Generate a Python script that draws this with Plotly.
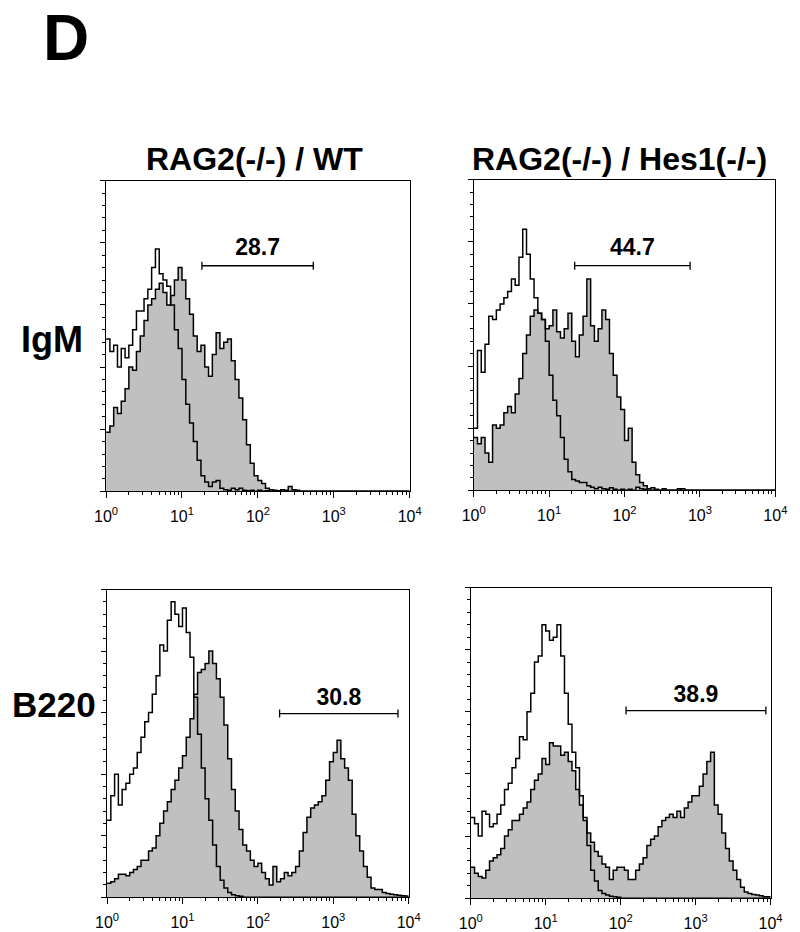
import numpy as np
import plotly.graph_objects as go

# channel bins in decades (10^0 .. 10^4)
bins = np.round(np.arange(0, 4.0001, 0.05), 2)
xvals = 10 ** bins

# % of panel height
# IgM, RAG2(-/-) / WT
igm_wt_ctrl = [49, 45, 47, 40, 46, 43, 47, 52, 58, 58,
               62, 65, 72, 78, 70, 68, 66, 60, 52, 46,
               36, 28, 22, 16, 10, 5, 3, 1.5, 3, 3.5,
               1, 0.5, 0.3, 1, 0.5, 1, 0.3, 0.2, 0.3, 0,
               0.3, 0, 0.2, 0, 0, 0, 0, 0, 0, 0,
               0, 0, 0, 0, 0, 0, 0, 0, 0, 0,
               0, 0, 0, 0, 0, 0, 0, 0, 0, 0,
               0, 0, 0, 0, 0, 0, 0, 0, 0, 0, 0]
igm_wt_stain = [19, 21, 27, 25, 29, 33, 40, 39, 45, 50,
                55, 60, 62, 65, 67, 64, 60, 63, 68, 72,
                68, 62, 57, 50, 45, 47, 40, 37, 44, 51,
                46, 48, 49, 42, 36, 30, 23, 15, 9, 5,
                3.5, 2.5, 1, 0.5, 0.3, 0.2, 0.5, 0.3, 1.5, 0.5,
                0.3, 0, 0, 0, 0, 0, 0, 0, 0, 0,
                0, 0, 0, 0, 0, 0, 0, 0, 0, 0,
                0, 0, 0, 0, 0, 0, 0, 0, 0, 0, 0]
# IgM, RAG2(-/-) / Hes1(-/-)
igm_hes_ctrl = [20, 45, 38, 47, 56, 55, 58, 60, 62, 64,
                68, 66, 75, 84, 76, 68, 62, 57, 55, 48,
                37, 29, 24, 17, 10, 6, 3.5, 3, 2.5, 2.5,
                1.5, 1, 0.5, 1, 0.5, 0.3, 0.8, 0.3, 0, 0.3,
                0, 0.3, 0, 1, 0.5, 0.3, 0, 0, 0, 0,
                0, 0, 0, 0, 0, 0.5, 0, 0, 0, 0,
                0, 0, 0, 0, 0, 0, 0, 0, 0, 0,
                0, 0, 0, 0, 0, 0, 0, 0, 0, 0, 0]
igm_hes_stain = [17, 15, 17, 12, 9, 21, 20, 21, 25, 27,
                 25, 31, 36, 44, 50, 56, 58, 57, 55, 52,
                 53, 58, 51, 49, 52, 57, 48, 43, 50, 56,
                 68, 53, 48, 52, 58, 55, 44, 37, 30, 26,
                 16, 20, 9, 5, 2.5, 1.5, 0.5, 0.8, 0.3, 0,
                 0.5, 0, 0, 0, 0.5, 0, 0, 0, 0, 0,
                 0, 0, 0, 0, 0, 0, 0, 0, 0, 0,
                 0, 0, 0, 0, 0, 0, 0, 0, 0, 0, 0]
# B220, RAG2(-/-) / WT
b220_wt_ctrl = [25, 33, 40, 30, 35, 37, 40, 42, 47, 52,
                57, 60, 66, 72, 82, 80, 90, 96, 92, 88,
                94, 86, 78, 65, 53, 42, 32, 25, 17, 10,
                5.5, 3, 1.5, 0.8, 0.5, 0.3, 0, 0, 0, 0,
                0, 0, 0, 0, 0, 0, 0, 0, 0, 0,
                0, 0, 0, 0, 0, 0, 0, 0, 0, 0,
                0, 0, 0, 0, 0, 0, 0, 0, 0, 0,
                0, 0, 0, 0, 0, 0, 0, 0, 0, 0, 0]
b220_wt_stain = [4.5, 5, 6, 7.5, 7.5, 7, 8, 9, 10, 12,
                 12, 15, 16, 20, 24, 28, 31, 35, 38, 42,
                 46, 52, 58, 66, 73, 74, 76, 80, 76, 71,
                 65, 56, 45, 35, 28, 22, 17, 15, 12, 10,
                 11, 8, 6, 4, 10, 5, 6, 8, 7, 8,
                 10, 15, 21, 26, 29, 30, 31, 33, 38, 44,
                 47, 51, 45, 42, 38, 27, 20, 15, 10, 6.5,
                 3, 2.5, 2.5, 1.5, 1.2, 1, 0.8, 0.6, 0.5, 0.4, 0.4]
# B220, RAG2(-/-) / Hes1(-/-)
b220_hes_ctrl = [26, 24, 20, 28, 27, 23, 24, 27, 30, 35,
                 37, 42, 45, 52, 51, 60, 66, 76, 78, 88,
                 86, 83, 84, 88, 78, 66, 56, 47, 42, 33,
                 26, 17, 9, 5.5, 2.5, 1.5, 1, 0.6, 0.5, 0.3,
                 0, 0, 0, 0, 0, 0, 0, 0, 0, 0,
                 0, 0, 0, 0, 0, 0, 0, 0, 0, 0,
                 0, 0, 0, 0, 0, 0, 0, 0, 0, 0,
                 0, 0, 0, 0, 0, 0, 0, 0, 0, 0, 0]
b220_hes_stain = [10, 8, 7, 6.5, 9, 12, 13, 14, 16, 20,
                  22, 25, 25, 27, 29, 31, 35, 38, 40, 45,
                  43, 50, 49, 49, 46, 47, 44, 41, 35, 30,
                  25, 21, 18, 15, 13.5, 11, 10, 6, 9, 10,
                  10, 9, 6, 6, 9, 11, 13, 17, 19, 20,
                  23, 25, 26, 27, 26, 28, 26, 29, 31, 33,
                  33, 36, 40, 44, 47, 30, 27, 21, 16, 12,
                  9, 6, 3.5, 2, 1.5, 1.2, 1, 0.8, 0.5, 0.5, 0.4]

# marker gates: low, high, height, label
gate_lo = [18.3, 21.8, 194, 118]
gate_hi = [537, 740, 7200, 8660]
gate_y = [72.6, 72.3, 59.7, 60.4]
gate_text = ["28.7", "44.7", "30.8", "38.9"]
label_y = [77.8, 77.5, 64.3, 65.0]

panels = [
    (igm_wt_ctrl, igm_wt_stain),
    (igm_hes_ctrl, igm_hes_stain),
    (b220_wt_ctrl, b220_wt_stain),
    (b220_hes_ctrl, b220_hes_stain),
]

W, H = 800, 932
# pixel boxes: left, right, top, bottom
boxes = [(97, 410, 182, 495), (476, 787, 181, 494),
         (98, 409, 594, 904), (473, 782, 592, 905)]

FONT = "Liberation Sans, Arial, sans-serif"
fig = go.Figure()

for i, (ctrl, stain) in enumerate(panels):
    n = "" if i == 0 else str(i + 1)
    xa, ya = "x" + n, "y" + n
    fig.add_trace(go.Scatter(x=xvals, y=stain, xaxis=xa, yaxis=ya, mode="lines",
                             line=dict(color="black", width=1.5, shape="hv"),
                             fill="tozeroy", fillcolor="rgb(192,192,192)"))
    fig.add_trace(go.Scatter(x=xvals, y=ctrl, xaxis=xa, yaxis=ya, mode="lines",
                             line=dict(color="black", width=1.5, shape="hv")))
    lo, hi, gy = gate_lo[i], gate_hi[i], gate_y[i]
    fig.add_trace(go.Scatter(x=[lo, lo, None, lo, hi, None, hi, hi],
                             y=[gy - 1.3, gy + 1.3, None, gy, gy, None, gy - 1.3, gy + 1.3],
                             xaxis=xa, yaxis=ya, mode="lines",
                             line=dict(color="black", width=1.3)))
    fig.add_trace(go.Scatter(x=[np.sqrt(lo * hi)], y=[label_y[i]], xaxis=xa, yaxis=ya,
                             mode="text", text=["<b>%s</b>" % gate_text[i]],
                             textfont=dict(family=FONT, size=23, color="black")))

    l, r, t, b = boxes[i]
    fig.update_layout({
        "xaxis" + n: dict(domain=[l / W, r / W], anchor=ya, type="log", range=[0, 4],
                          tickvals=[1, 10, 100, 1000, 10000],
                          ticktext=["10<sup>%d</sup>" % k for k in range(5)],
                          ticks="outside", ticklen=6, tickwidth=1.2, tickcolor="black",
                          ticklabelstandoff=4,
                          minor=dict(ticks="outside", ticklen=3, tickwidth=1,
                                     tickcolor="black", dtick="D1", showgrid=False),
                          showline=True, linecolor="black", linewidth=1.4, mirror=True,
                          showgrid=False, zeroline=False,
                          tickfont=dict(family=FONT, size=16, color="black")),
        "yaxis" + n: dict(domain=[1 - b / H, 1 - t / H], anchor=xa, range=[0, 100],
                          dtick=20, ticks="outside", ticklen=5, tickwidth=1.2,
                          tickcolor="black", showticklabels=False,
                          minor=dict(ticks="outside", ticklen=3, dtick=4,
                                     tickcolor="black", showgrid=False),
                          showline=True, linecolor="black", linewidth=1.4, mirror=True,
                          showgrid=False, zeroline=False),
    })

annots = [
    dict(text="<b>D</b>", x=56 / W, y=1.0, size=64, anchor="top"),
    dict(text="<b>RAG2(-/-) / WT</b>", x=250 / W, y=1 - 160 / H, size=32, anchor="middle"),
    dict(text="<b>RAG2(-/-) / Hes1(-/-)</b>", x=626 / W, y=1 - 160 / H, size=32, anchor="middle"),
    dict(text="<b>IgM</b>", x=41 / W, y=1 - 342 / H, size=36, anchor="middle"),
    dict(text="<b>B220</b>", x=43 / W, y=1 - 710 / H, size=35, anchor="middle"),
]
for a in annots:
    fig.add_annotation(text=a["text"], x=a["x"], y=a["y"], xref="paper", yref="paper",
                       xanchor="center", yanchor=a["anchor"], showarrow=False,
                       font=dict(family=FONT, size=a["size"], color="black"))

fig.update_layout(width=W, height=H, margin=dict(l=0, r=0, t=0, b=0),
                  paper_bgcolor="white", plot_bgcolor="white", showlegend=False)

# drop the default page margin so the figure sits at the window's corner
fig.write_html("out.html", config={"displayModeBar": False},
               post_script="document.body.style.margin='0';")
